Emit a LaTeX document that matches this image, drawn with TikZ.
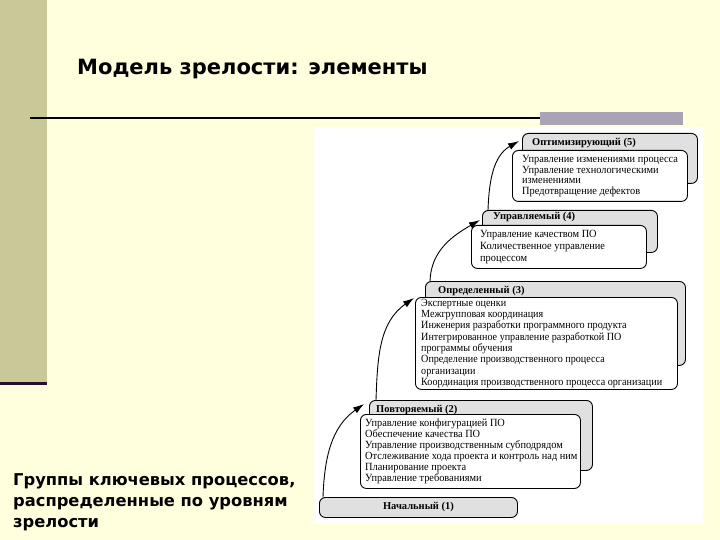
\documentclass[tikz,border=0pt]{standalone}
\usepackage{fontspec}
\setmainfont{Liberation Serif}
\newfontfamily\headfont{DejaVu Sans}
\newfontfamily\boxfont[FakeStretch=0.94]{Liberation Serif}
\newfontfamily\boxfontn[FakeStretch=0.92]{Liberation Serif}
\usetikzlibrary{arrows.meta}
\definecolor{bgyellow}{HTML}{FFFFDD}
\definecolor{olivestrip}{HTML}{C8C898}
\definecolor{darkplum}{HTML}{2A0F2A}
\definecolor{barlav}{HTML}{A9A3B5}
\definecolor{boxgray}{HTML}{E0E0E0}
\tikzset{
  graybox/.style={draw=black, line width=0.9pt, fill=boxgray, rounded corners=6pt, anchor=north west, inner sep=0pt},
  whitebox/.style={draw=black, line width=0.9pt, fill=white, rounded corners=6pt, anchor=north west, inner sep=0pt},
  boxtext/.style={anchor=west, align=left, inner sep=0pt, font=\boxfont\fontsize{11}{11.1}\selectfont},
  boxtitle/.style={anchor=base west, font=\bfseries\fontsize{10.5}{12}\selectfont, inner sep=0pt},
  arr/.style={-{Latex[length=11pt,width=7pt]}, line width=0.9pt, black},
}
\begin{document}
\begin{tikzpicture}[x=1pt,y=-1pt]
\useasboundingbox (0,0) rectangle (720,540);
\fill[bgyellow] (0,0) rectangle (720,540);
\fill[olivestrip] (0,0) rectangle (47,383);
\fill[darkplum] (0,382) rectangle (47,385);
\draw[line width=2.4pt, black] (30,118) -- (683,118);
\fill[barlav] (540,112) rectangle (683,125);
\fill[white] (314,127) rectangle (703,524);

\node[anchor=base west, inner sep=0pt, font=\headfont\bfseries\fontsize{21}{24}\selectfont] (title) at (77,75) {Модель зрелости: элементы};
\node[anchor=north west, inner sep=0pt, align=left, font=\headfont\bfseries\fontsize{16.3}{21}\selectfont] (side) at (13,473) {Группы ключевых процессов,\\распределенные по уровням\\зрелости};

% level 5
\node[graybox, minimum width=175pt, minimum height=50pt] (g5) at (522,133) {};
\node[boxtitle] (t5) at (532,146) {Оптимизирующий (5)};
\node[whitebox, minimum width=175pt, minimum height=51pt] (w5) at (512,150) {};
\node[boxtext, font=\boxfont\fontsize{11}{10.7}\selectfont] (x5) at ([xshift=10pt]w5.west) {Управление изменениями процесса\\Управление технологическими\\изменениями\\Предотвращение дефектов};

% level 4
\node[graybox, minimum width=175pt, minimum height=42pt] (g4) at (482,210) {};
\node[boxtitle] (t4) at (493,220) {Управляемый (4)};
\node[whitebox, minimum width=175pt, minimum height=43pt] (w4) at (471,225) {};
\node[boxtext, font=\boxfont\fontsize{11}{11.8}\selectfont] (x4) at ([xshift=9pt]w4.west) {Управление качеством ПО\\Количественное управление\\процессом};

% level 3
\node[graybox, minimum width=260pt, minimum height=84pt] (g3) at (425,281) {};
\node[boxtitle] (t3) at (438,293) {Определенный (3)};
\node[whitebox, minimum width=262pt, minimum height=92pt] (w3) at (415,297) {};
\node[boxtext, font=\boxfontn\fontsize{11}{11.3}\selectfont] (x3) at ([xshift=6pt]w3.west) {Экспертные оценки\\Межгрупповая координация\\Инженерия разработки программного продукта\\Интегрированное управление разработкой ПО\\программы обучения\\Определение производственного процесса\\организации\\Координация производственного процесса организации};

% level 2
\node[graybox, minimum width=223pt, minimum height=70pt] (g2) at (369,400) {};
\node[boxtitle] (t2) at (376,412) {Повторяемый (2)};
\node[whitebox, minimum width=220pt, minimum height=74pt] (w2) at (360,414) {};
\node[boxtext, font=\boxfont\fontsize{11}{11}\selectfont] (x2) at ([xshift=5pt]w2.west) {Управление конфигурацией ПО\\Обеспечение качества ПО\\Управление производственным субподрядом\\Отслеживание хода проекта и контроль над ним\\Планирование проекта\\Управление требованиями};

% level 1
\node[graybox, minimum width=198pt, minimum height=20pt, font=\bfseries\fontsize{10.5}{12}\selectfont] (b1) at (319,497) {Начальный (1)};

% arrows
\draw[arr] ([xshift=4pt]b1.north west) to[out=88,in=215] ([xshift=-5pt,yshift=-4pt]g2.north west);
\draw[arr] ([xshift=7pt]g2.north west) to[out=88,in=215] ([xshift=-1pt,yshift=-1pt]w3.north west);
\draw[arr] ([xshift=5pt]g3.north west) to[out=88,in=210] ([xshift=-2pt,yshift=-10pt]g4.north west);
\draw[arr] ([xshift=6pt]g4.north west) to[out=88,in=210] ([xshift=-3pt,yshift=-8pt]g5.north west);
\end{tikzpicture}
\end{document}
